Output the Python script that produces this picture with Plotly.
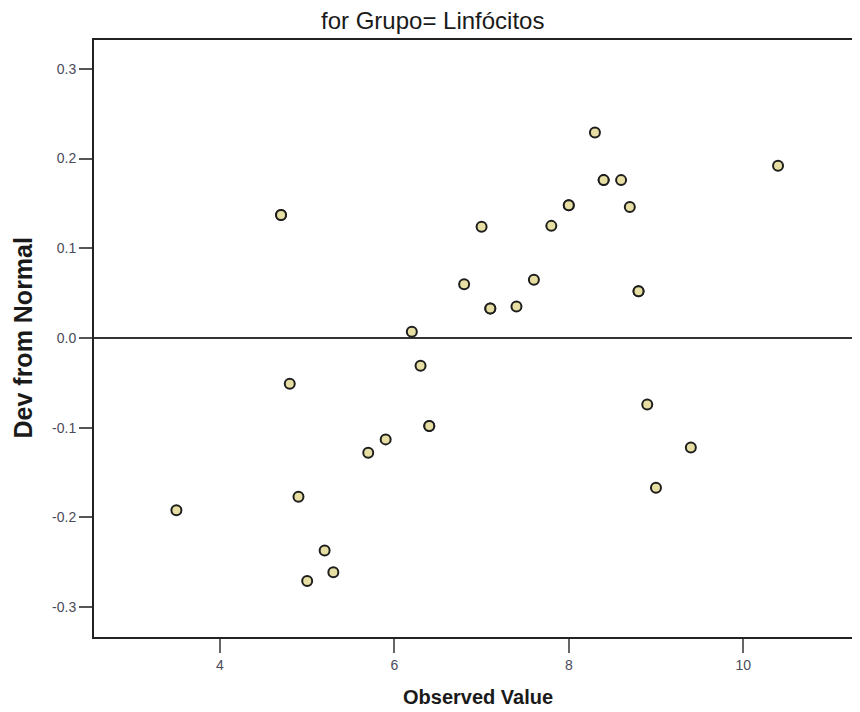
import plotly.graph_objects as go

observed = [3.5, 4.7, 4.7, 4.8, 4.9, 5.0, 5.2, 5.3, 5.7, 5.9, 6.2, 6.3, 6.4, 6.4,
            6.8, 7.0, 7.1, 7.1, 7.4, 7.6, 7.8, 8.0, 8.0, 8.3, 8.4, 8.4, 8.6, 8.7,
            8.8, 8.8, 8.9, 9.0, 9.4, 10.4]
dev_from_normal = [-0.192, 0.137, 0.137, -0.051, -0.177, -0.271, -0.237, -0.261,
                   -0.128, -0.113, 0.007, -0.031, -0.098, -0.098, 0.060, 0.124,
                   0.033, 0.033, 0.035, 0.065, 0.125, 0.148, 0.148, 0.229, 0.176,
                   0.176, 0.176, 0.146, 0.052, 0.052, -0.074, -0.167, -0.122, 0.192]

x_ticks = [4, 6, 8, 10]
y_ticks = [-0.3, -0.2, -0.1, 0.0, 0.1, 0.2, 0.3]
y_tick_labels = ["-0.3", "-0.2", "-0.1", "0.0", "0.1", "0.2", "0.3"]

title_text = "for Grupo= Linfócitos"
x_title = "Observed Value"
y_title = "Dev from Normal"

# The page body has an 8px margin; size the figure so the plot lands where the
# reference has it in the 860x712 window.
OFF = 8
W, H = 860 - OFF, 712 - OFF
L, T = 94 - OFF, 40 - OFF
B = H - (637 - OFF)
R = 0
plot_w = W - L - R
plot_h = H - T - B

fig = go.Figure()
fig.add_trace(go.Scatter(
    x=observed, y=dev_from_normal, mode="markers",
    marker=dict(size=10, color="#e6dea2", line=dict(color="#1e1e1e", width=2)),
    showlegend=False, hoverinfo="x+y",
))

fig.update_layout(
    width=W, height=H,
    margin=dict(l=L, r=R, t=T, b=B, autoexpand=False),
    paper_bgcolor="white", plot_bgcolor="white",
    font=dict(family="Liberation Sans, Arial, sans-serif", color="#222"),
)
fig.add_annotation(text=title_text, xref="paper", yref="paper",
                   x=(432 - 94) / plot_w, y=1 + (40 - 20) / plot_h,
                   xanchor="center", yanchor="middle", showarrow=False,
                   font=dict(size=24, color="#1a1a1a"))
fig.add_annotation(text="<b>" + x_title + "</b>", xref="paper", yref="paper",
                   x=(478 - 94) / plot_w, y=-(697 - 637) / plot_h,
                   xanchor="center", yanchor="middle", showarrow=False,
                   font=dict(size=20, color="#1a1a1a"))
fig.add_annotation(text="<b>" + y_title + "</b>", xref="paper", yref="paper",
                   x=-(94 - 22) / plot_w, y=0.5, textangle=-90,
                   xanchor="center", yanchor="middle", showarrow=False,
                   font=dict(size=25, color="#1a1a1a"))

fig.update_xaxes(
    range=[2.555, 11.34], tickvals=x_ticks, ticktext=[str(v) for v in x_ticks],
    showgrid=False, zeroline=False, showline=True, linecolor="#222", linewidth=2,
    mirror=True, ticks="outside", ticklen=14, tickwidth=2, tickcolor="#666",
    tickfont=dict(size=14, color="#4a4a5a"),
)
fig.update_yaxes(
    range=[-0.3333, 0.3322], tickvals=y_ticks, ticktext=y_tick_labels,
    showgrid=False, zeroline=True, zerolinecolor="#333", zerolinewidth=2,
    showline=True, linecolor="#222", linewidth=2,
    ticks="outside", ticklen=13, tickwidth=2, tickcolor="#555",
    tickfont=dict(size=14, color="#4a4a5a"),
)

fig.write_html("out.html")
